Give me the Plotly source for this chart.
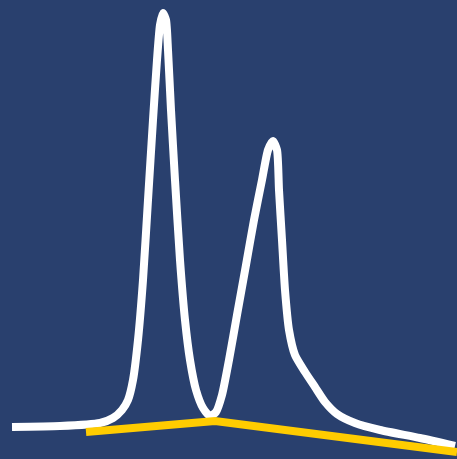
import plotly.graph_objects as go

# White chromatogram-like curve (x, y in image-space units, y downward)
curve_x = [12, 60, 100, 113, 122, 128, 133, 138, 143, 148, 153, 157, 160, 163, 166, 168, 171, 175, 180, 185, 190, 196, 203, 210,
           216, 222, 229, 237, 246, 254, 262, 268, 273, 277, 279, 282, 285, 289, 295, 305, 315, 325, 337, 355, 380, 420, 455]
curve_y = [427, 426, 423, 418, 410, 400, 380, 340, 280, 200, 120, 60, 25, 13, 20, 50, 110, 180, 260, 320, 360, 390, 408, 416,
           412, 395, 360, 315, 265, 220, 180, 150, 141, 150, 190, 240, 290, 330, 355, 372, 387, 402, 414, 423, 430, 438, 446]

# Yellow baseline segments
base_x = [86, 215, 457]
base_y = [432, 421, 452]

fig = go.Figure()
fig.add_trace(go.Scatter(x=curve_x, y=curve_y, mode="lines",
                         line=dict(color="white", width=8, shape="spline", smoothing=0.6),
                         hoverinfo="skip"))
fig.add_trace(go.Scatter(x=base_x, y=base_y, mode="lines",
                         line=dict(color="#ffcc00", width=8),
                         hoverinfo="skip"))
fig.update_layout(
    width=457, height=459,
    margin=dict(l=0, r=0, t=0, b=0),
    paper_bgcolor="#29406e", plot_bgcolor="#29406e",
    showlegend=False,
    xaxis=dict(range=[0, 457], visible=False, fixedrange=True),
    yaxis=dict(range=[459, 0], visible=False, fixedrange=True),
)
fig.write_html("out.html", config={"displayModeBar": False})

# remove default page margin so the figure fills the window
with open("out.html", "r", encoding="utf-8") as f:
    html = f.read()
html = html.replace("<head>", "<head><style>html,body{margin:0;padding:0;background:#29406e;overflow:hidden}</style>", 1)
with open("out.html", "w", encoding="utf-8") as f:
    f.write(html)
